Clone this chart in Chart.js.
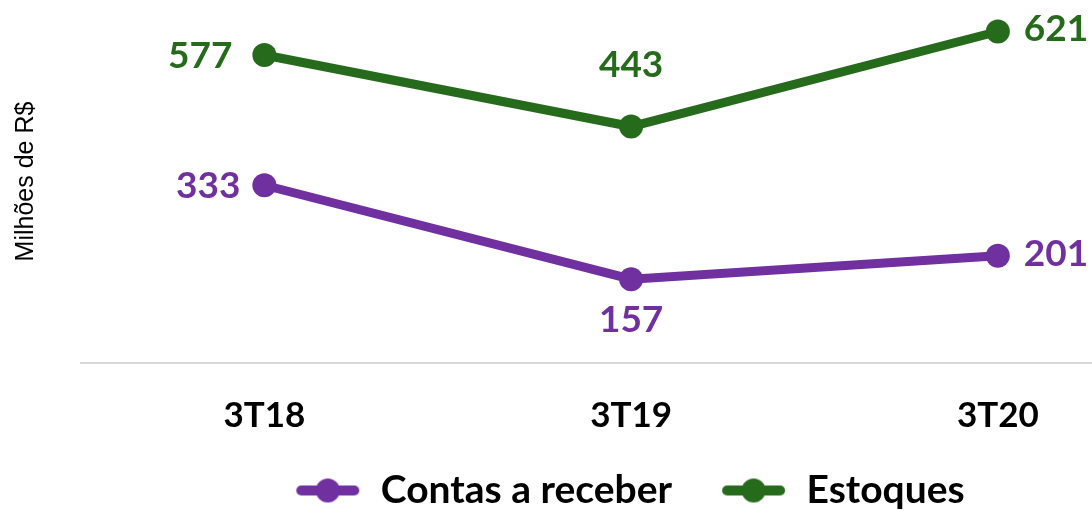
<!DOCTYPE html>
<html>
<head>
<meta charset="utf-8">
<script src="https://cdn.jsdelivr.net/npm/chart.js@4/dist/chart.umd.min.js"></script>
<style>
  html, body { margin: 0; padding: 0; background: #ffffff; }
  #wrap { width: 1092px; height: 511px; position: relative; }
</style>
</head>
<body>
<div id="wrap"><canvas id="c"></canvas></div>
<script>
const categories = ['3T18', '3T19', '3T20'];
const contasReceber = [333, 157, 201];
const estoques = [577, 443, 621];
const seriesNames = ['Contas a receber', 'Estoques'];
const yTitle = 'Milhões de R$';

const PURPLE = '#7030A0';
const GREEN = '#266B1C';

function makeIcon(color) {
  const E = 36, W = 101, H = 26;
  const c = document.createElement('canvas');
  c.width = W; c.height = H;
  const g = c.getContext('2d');
  g.strokeStyle = color;
  g.fillStyle = color;
  g.lineWidth = 10;
  g.lineCap = 'round';
  g.beginPath();
  g.moveTo(E + 5, H / 2);
  g.lineTo(E + 58, H / 2);
  g.stroke();
  g.beginPath();
  g.arc(E + 31.5, H / 2, 12, 0, Math.PI * 2);
  g.fill();
  return c;
}
const icons = [makeIcon(PURPLE), makeIcon(GREEN)];

const labelPlugin = {
  id: 'pointValueLabels',
  afterDatasetsDraw(chart, args, opts) {
    const ctx = chart.ctx;
    ctx.save();
    ctx.font = 'bold 37px Lato';
    ctx.textBaseline = 'middle';
    chart.data.datasets.forEach((ds, di) => {
      const meta = chart.getDatasetMeta(di);
      meta.data.forEach((pt, i) => {
        const p = opts.offsets[di][i];
        ctx.fillStyle = ds.borderColor;
        ctx.textAlign = p.align;
        ctx.fillText(String(ds.data[i].y), pt.x + p.dx, pt.y + p.dy);
      });
    });
    ctx.restore();
  }
};

const toPoints = arr => arr.map((v, i) => ({ x: i, y: v }));

new Chart(document.getElementById('c'), {
  type: 'line',
  data: {
    datasets: [
      {
        label: seriesNames[0],
        data: toPoints(contasReceber),
        borderColor: PURPLE,
        backgroundColor: PURPLE,
        borderWidth: 9,
        pointRadius: 12,
        pointHoverRadius: 12,
        pointBorderWidth: 0,
        pointBackgroundColor: PURPLE,
        tension: 0,
        clip: false
      },
      {
        label: seriesNames[1],
        data: toPoints(estoques),
        borderColor: GREEN,
        backgroundColor: GREEN,
        borderWidth: 9,
        pointRadius: 12,
        pointHoverRadius: 12,
        pointBorderWidth: 0,
        pointBackgroundColor: GREEN,
        tension: 0,
        clip: false
      }
    ]
  },
  options: {
    responsive: true,
    maintainAspectRatio: false,
    animation: false,
    devicePixelRatio: 1,
    layout: { autoPadding: false, padding: { left: 0, right: -133, top: 0, bottom: -9 } },
    scales: {
      x: {
        type: 'linear',
        min: -0.5,
        max: 2.2567,
        afterBuildTicks: s => { s.ticks = categories.map((c, i) => ({ value: i })); },
        afterFit: s => { s.height = 94; },
        ticks: {
          callback: v => categories[v],
          autoSkip: false,
          maxRotation: 0,
          padding: 32,
          color: '#000000',
          font: { family: 'Lato', weight: 'bold', size: 35 }
        },
        grid: { display: false, drawTicks: false },
        border: { display: true, color: '#D9D9D9', width: 2 }
      },
      y: {
        min: 0,
        max: 680,
        afterFit: s => { s.width = 81; },
        ticks: { display: false },
        grid: { display: false, drawTicks: false },
        border: { display: false },
        title: {
          display: true,
          text: yTitle,
          color: '#000000',
          font: { family: 'Liberation Sans', size: 25, weight: 'normal' },
          padding: { top: 11, bottom: 0 }
        }
      }
    },
    plugins: {
      legend: {
        position: 'bottom',
        labels: {
          usePointStyle: true,
          pointStyleWidth: 101,
          padding: 14,
          color: '#000000',
          font: { family: 'Lato', weight: 'bold', size: 39 },
          generateLabels: chart => chart.data.datasets.map((ds, i) => ({
            text: ds.label,
            fillStyle: ds.borderColor,
            strokeStyle: ds.borderColor,
            fontColor: '#000000',
            lineWidth: 0,
            pointStyle: icons[i],
            hidden: false,
            datasetIndex: i
          }))
        }
      },
      tooltip: { enabled: false },
      pointValueLabels: {
        offsets: [
          [ { dx: -24, dy: 1, align: 'right' }, { dx: 0, dy: 41, align: 'center' }, { dx: 26, dy: -2, align: 'left' } ],
          [ { dx: -32, dy: 1, align: 'right' }, { dx: 0, dy: -61, align: 'center' }, { dx: 26, dy: -2, align: 'left' } ]
        ]
      }
    }
  },
  plugins: [labelPlugin]
});
</script>
</body>
</html>
